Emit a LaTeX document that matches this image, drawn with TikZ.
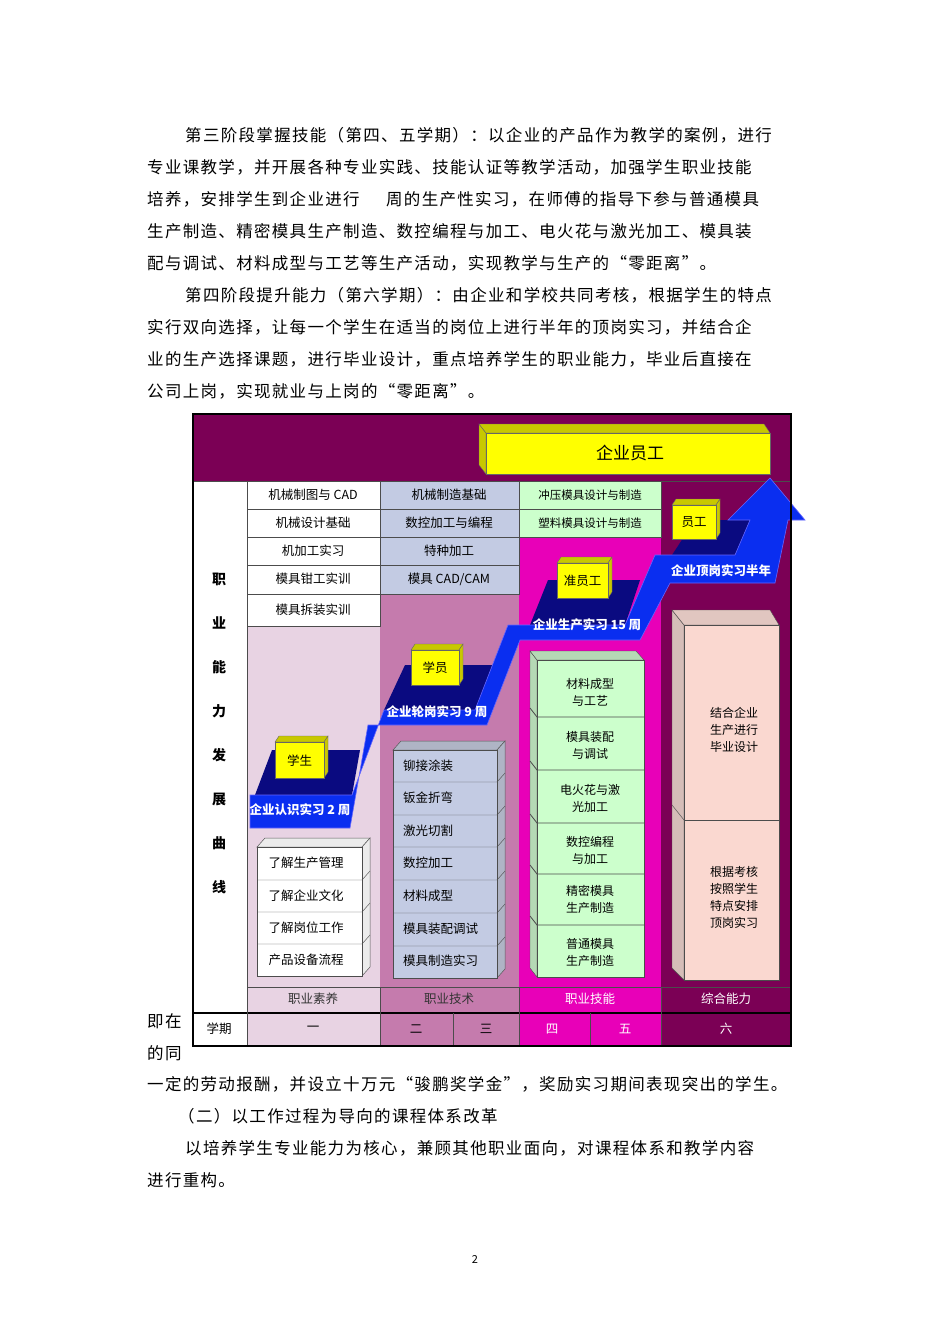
\documentclass[tikz,border=0pt]{standalone}
\usepackage{fontspec}
\setmainfont{Noto Sans CJK SC}
\newfontfamily\cjk[LetterSpace=8]{Noto Sans CJK SC}
\definecolor{dpur}{HTML}{7B0055}
\definecolor{mag}{HTML}{E800B8}
\definecolor{midp}{HTML}{C57BAD}
\definecolor{lpink}{HTML}{E8D3E3}
\definecolor{lblue}{HTML}{C3CBE3}
\definecolor{lgreen}{HTML}{CCFFCC}
\definecolor{spink}{HTML}{FAD8D0}
\definecolor{rblue}{HTML}{0A2EF0}
\definecolor{navy}{HTML}{0A0A80}
\definecolor{yel}{HTML}{FFFF00}
\definecolor{dyel}{HTML}{C8C800}
\newcommand{\threedbox}[7]{% x1 y1 x2 y2 fill side name
  \fill[#6,draw=gray!70!black,line width=.5pt] (#1,#2)--(#1+8,#2-9)--(#3+8,#2-9)--(#3,#2)--cycle;
  \fill[#6,draw=gray!70!black,line width=.5pt] (#3,#2)--(#3+8,#2-9)--(#3+8,#4-9)--(#3,#4)--cycle;
  \node[draw=gray!60!black,fill=#5,minimum width=#3-#1,minimum height=#4-#2,anchor=north west,inner sep=0pt] (#7) at (#1,#2) {};
}
\begin{document}
\begin{tikzpicture}[x=1pt,y=-1pt,
  para/.style={anchor=west,inner sep=0pt,font=\cjk\fontsize{16.5}{20}\selectfont},
  cell/.style={font=\fontsize{12.5}{15}\selectfont,inner sep=0pt},
  lbl/.style={font=\fontsize{12}{17}\selectfont,inner sep=0pt,align=center},
  wlbl/.style={font=\fontsize{12.5}{15}\selectfont\bfseries,text=white,inner sep=0pt},
  grid/.style={draw=gray!60!black,line width=.6pt}]
\useasboundingbox (0,0) rectangle (950,1344);
\fill[white] (0,0) rectangle (950,1344);
% text above
\node[para] (p1) at (185,135) {第三阶段掌握技能（第四、五学期）：以企业的产品作为教学的案例，进行};
\node[para] (p2) at (147,167) {专业课教学，并开展各种专业实践、技能认证等教学活动，加强学生职业技能};
\node[para] (p3) at (147,199) {培养，安排学生到企业进行\hspace{1.6em}周的生产性实习，在师傅的指导下参与普通模具};
\node[para] (p4) at (147,231) {生产制造、精密模具生产制造、数控编程与加工、电火花与激光加工、模具装};
\node[para] (p5) at (147,263) {配与调试、材料成型与工艺等生产活动，实现教学与生产的“零距离”。};
\node[para] (p6) at (185,295) {第四阶段提升能力（第六学期）：由企业和学校共同考核，根据学生的特点};
\node[para] (p7) at (147,327) {实行双向选择，让每一个学生在适当的岗位上进行半年的顶岗实习，并结合企};
\node[para] (p8) at (147,359) {业的生产选择课题，进行毕业设计，重点培养学生的职业能力，毕业后直接在};
\node[para] (p9) at (147,391) {公司上岗，实现就业与上岗的“零距离”。};
\node[para] (p10) at (147,1021) {即在};
\node[para] (p11) at (147,1053) {的同};
\node[para] (p12) at (147,1084) {一定的劳动报酬，并设立十万元“骏鹏奖学金”，奖励实习期间表现突出的学生。};
\node[para] (p13) at (178,1116) {（二）以工作过程为导向的课程体系改革};
\node[para] (p14) at (185,1148) {以培养学生专业能力为核心，兼顾其他职业面向，对课程体系和教学内容};
\node[para] (p15) at (147,1180) {进行重构。};
\node[font=\fontsize{11}{13}\selectfont] (pg) at (475,1259) {2};
% figure backgrounds
\fill[dpur] (193,414) rectangle (791,481);
\fill[white] (193,481) rectangle (247,1046);
\fill[lpink] (247,481) rectangle (380,1046);
\fill[midp] (380,481) rectangle (519,1046);
\fill[mag] (519,481) rectangle (661,1046);
\fill[dpur] (661,481) rectangle (791,1046);
% top tables
\foreach \a/\b in {481/509,509/537,537/565,565/594,594/626}{\draw[grid,fill=white] (247,\a) rectangle (380,\b);}
\foreach \a/\b in {481/509,509/537,537/565,565/594}{\draw[grid,fill=lblue] (380,\a) rectangle (519,\b);}
\foreach \a/\b in {481/509,509/537}{\draw[grid,fill=lgreen] (519,\a) rectangle (661,\b);}
\node[cell] (t11) at (313,495) {机械制图与 CAD};
\node[cell] (t12) at (313,523) {机械设计基础};
\node[cell] (t13) at (313,551) {机加工实习};
\node[cell] (t14) at (313,579) {模具钳工实训};
\node[cell] (t15) at (313,610) {模具拆装实训};
\node[cell] (t21) at (449,495) {机械制造基础};
\node[cell] (t22) at (449,523) {数控加工与编程};
\node[cell] (t23) at (449,551) {特种加工};
\node[cell] (t24) at (449,579) {模具 CAD/CAM};
\node[cell,font=\fontsize{11.5}{14}\selectfont] (t31) at (590,495) {冲压模具设计与制造};
\node[cell,font=\fontsize{11.5}{14}\selectfont] (t32) at (590,523) {塑料模具设计与制造};
% vertical label
\node[font=\fontsize{14}{44}\selectfont\bfseries,align=center,inner sep=0pt] (vl) at (219,733) {职\\业\\能\\力\\发\\展\\曲\\线};
% category & semester rows
\draw[grid] (247,987)--(791,987);
\draw[line width=1.5pt] (193,1013)--(791,1013);
\draw[grid] (247,481)--(247,1046);
\draw[grid] (380,987)--(380,1046) (519,987)--(519,1046) (661,987)--(661,1046) (453,1013)--(453,1046) (590,1013)--(590,1046);
\draw[grid] (193,481)--(791,481);
\node[cell,text=black!80] (c1) at (313,999) {职业素养};
\node[cell,text=black!80] (c2) at (449,999) {职业技术};
\node[cell,text=white] (c3) at (590,999) {职业技能};
\node[cell,text=white] (c4) at (726,999) {综合能力};
\node[cell] (s0) at (219,1029) {学期};
\node[cell] (s1) at (313,1029) {一};
\node[cell] (s2) at (416,1029) {二};
\node[cell] (s3) at (486,1029) {三};
\node[cell,text=white] (s4) at (552,1029) {四};
\node[cell,text=white] (s5) at (625,1029) {五};
\node[cell,text=white] (s6) at (726,1029) {六};
% col1 stack
\threedbox{257}{847}{362}{976}{white}{white!85!gray}{st1}
\foreach \y in {880,912,944}{\draw[gray!60!black] (257,\y)--(362,\y)--(370,\y-9);}
\node[cell] (a1) at (306,863) {了解生产管理};
\node[cell] (a2) at (306,896) {了解企业文化};
\node[cell] (a3) at (306,928) {了解岗位工作};
\node[cell] (a4) at (306,960) {产品设备流程};
% col2 stack
\threedbox{393}{750}{497}{978}{lblue}{lblue!70!gray}{st2}
\foreach \y in {782,815,847,880,913,946}{\draw[gray!60!black] (393,\y)--(497,\y)--(505,\y-9);}
\node[cell,anchor=west] (b1) at (403,766) {铆接涂装};
\node[cell,anchor=west] (b2) at (403,798) {钣金折弯};
\node[cell,anchor=west] (b3) at (403,831) {激光切割};
\node[cell,anchor=west] (b4) at (403,863) {数控加工};
\node[cell,anchor=west] (b5) at (403,896) {材料成型};
\node[cell,anchor=west] (b6) at (403,929) {模具装配调试};
\node[cell,anchor=west] (b7) at (403,961) {模具制造实习};
% col3 green stack (side on left)
\fill[lgreen!70!gray,draw=gray!60!black] (537,660)--(530,651)--(530,968)--(537,977)--cycle;
\fill[lgreen!70!gray,draw=gray!60!black] (537,660)--(530,651)--(636,651)--(644,660)--cycle;
\draw[gray!60!black,fill=lgreen] (537,660) rectangle (644,977);
\foreach \y in {717,770,823,874,925}{\draw[gray!60!black,line width=.8pt] (530,\y-9)--(537,\y)--(644,\y);}
\node[lbl] (g1) at (590,692) {材料成型\\与工艺};
\node[lbl] (g2) at (590,745) {模具装配\\与调试};
\node[lbl] (g3) at (590,798) {电火花与激\\光加工};
\node[lbl] (g4) at (590,850) {数控编程\\与加工};
\node[lbl] (g5) at (590,899) {精密模具\\生产制造};
\node[lbl] (g6) at (590,952) {普通模具\\生产制造};
% col4 pink
\fill[spink!70!gray,draw=gray!60!black] (672,610)--(684,625)--(684,980)--(672,968)--cycle;
\fill[spink!80!gray,draw=gray!60!black] (672,610)--(770,610)--(779,625)--(684,625)--cycle;
\draw[gray!60!black,fill=spink] (684,625) rectangle (779,820);
\draw[gray!60!black,fill=spink] (684,820) rectangle (779,980);
\draw[gray!60!black] (672,805)--(684,820);
\node[lbl] (h1) at (734,730) {结合企业\\生产进行\\毕业设计};
\node[lbl] (h2) at (734,897) {根据考核\\按照学生\\特点安排\\顶岗实习};
% staircase
\fill[navy] (255,795)--(272,750)--(360,750)--(352,795)--cycle;
\fill[navy] (384,710)--(405,665)--(495,665)--(475,710)--cycle;
\fill[navy] (530,625)--(548,580)--(640,580)--(625,625)--cycle;
\fill[navy] (672,555)--(695,520)--(765,520)--(750,555)--cycle;
\fill[rblue,draw=blue!60!white,line width=.6pt]
 (250,795)--(352,795)--(384,710)--(475,710)--(508,625)--(625,625)--(655,555)--(735,555)--(750,520)--(728,520)--(770,478)--(805,520)--(788,520)--(775,583)--(670,583)--(640,640)--(520,640)--(487,725)--(368,725)--(350,828)--(250,828)--cycle;
\node[wlbl] (r1) at (300,810) {企业认识实习 2 周};
\node[wlbl] (r2) at (437,712) {企业轮岗实习 9 周};
\node[wlbl] (r3) at (587,625) {企业生产实习 15 周};
\node[wlbl] (r4) at (721,571) {企业顶岗实习半年};
% yellow boxes
\newcommand{\ybox}[5]{%
  \fill[dyel,draw=black!60] (#1,#2)--(#1+4,#2-6)--(#3+4,#2-6)--(#3,#2)--cycle;
  \fill[dyel,draw=black!60] (#3,#2)--(#3+4,#2-6)--(#3+4,#4-6)--(#3,#4)--cycle;
  \node[draw=black!60,fill=yel,minimum width=#3-#1,minimum height=#4-#2,anchor=north west,inner sep=0pt,font=\fontsize{13}{15}\selectfont] (#5) at (#1,#2) {};
}
\ybox{275}{742}{324}{778}{y1}\node[cell] (y1t) at (y1) {学生};
\ybox{411}{650}{459}{685}{y2}\node[cell] (y2t) at (y2) {学员};
\ybox{557}{563}{608}{598}{y3}\node[cell] (y3t) at (y3) {准员工};
\ybox{672}{505}{716}{539}{y4}\node[cell] (y4t) at (y4) {员工};
\fill[dyel,draw=black!60] (479,424)--(486,433)--(486,474)--(479,465)--cycle;
\fill[dyel,draw=black!60] (479,424)--(764,424)--(770,433)--(486,433)--cycle;
\node[draw=black!60,fill=yel,minimum width=284,minimum height=41,anchor=north west,inner sep=0pt] (big) at (486,433) {};
\node[font=\fontsize{17}{20}\selectfont] (bigt) at (630,453) {企业员工};
\draw[line width=1.5pt] (193,414) rectangle (791,1046);
\end{tikzpicture}
\end{document}
